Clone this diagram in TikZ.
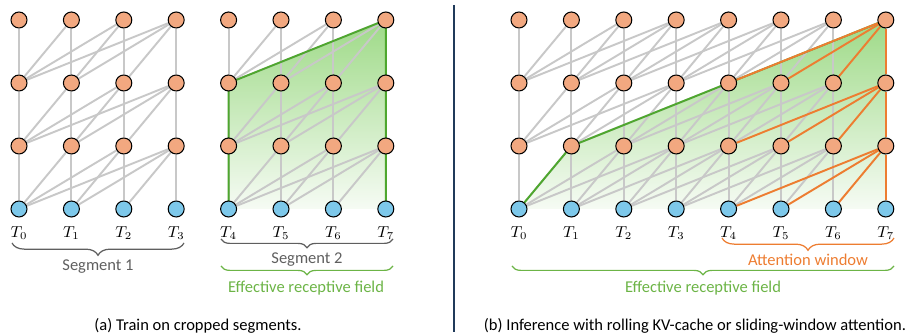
\documentclass[tikz,border=0pt]{standalone}
\usepackage{fontspec}
\setmainfont{Carlito}
\usetikzlibrary{decorations.pathreplacing}
\pgfdeclarelayer{shade}
\pgfdeclarelayer{top}
\pgfsetlayers{shade,main,top}
\begin{document}
\begin{tikzpicture}[x=0.02cm,y=-0.02cm,
  tok/.style={circle,draw=black,line width=0.6pt,minimum size=0.32cm,inner sep=0pt},
  attn/.style={line width=1.1pt,color=tk_gray},
  win/.style={line width=1.1pt,color=tk_orange},
  field/.style={line width=1.1pt,color=tk_green},
  brc/.style={decorate,decoration={brace,mirror,amplitude=5pt},line width=0.7pt},
  lbl/.style={font=\fontsize{9.4}{11}\selectfont,inner sep=1pt},
  tlbl/.style={font=\fontsize{9}{10}\selectfont,inner sep=0pt}]

% ------------------------------------------------ colors
\definecolor{tk_hid}{RGB}{242,168,128}     %#F2A880
\definecolor{tk_inp}{RGB}{125,200,234}     %#7DC8EA
\definecolor{tk_gray}{RGB}{200,200,200}    %#C8C8C8
\definecolor{tk_green}{RGB}{78,167,46}     %#4EA72E
\definecolor{tk_gtext}{RGB}{108,180,70}    %#6CB446
\definecolor{tk_orange}{RGB}{237,125,49}   %#ED7D31
\definecolor{tk_text}{RGB}{95,95,95}       %#5F5F5F
\definecolor{tk_rule}{RGB}{32,58,90}       %#203A5A
\definecolor{tk_ftop}{RGB}{158,218,135}
\definecolor{tk_fbot}{RGB}{246,251,244}

\useasboundingbox (0,0) rectangle (914,333);

% ------------------------------------------------ tokens
\begin{pgfonlayer}{top}
\foreach \i in {0,...,7} {
  \foreach \r in {0,...,3} {
    \ifnum\r=0 \def\fc{tk_inp}\else\def\fc{tk_hid}\fi
    \node[tok,fill=\fc] (seg-\i-\r) at (19+52.4*\i,209-63*\r) {};
    \node[tok,fill=\fc] (win-\i-\r) at (519+52.4*\i,209-63*\r) {};
  }
  \node[tlbl] (tseg-\i) at (19+52.4*\i,233) {$T_{\i}$};
  \node[tlbl] (twin-\i) at (519+52.4*\i,233) {$T_{\i}$};
}
\end{pgfonlayer}

% ------------------------------------------------ receptive fields
\begin{pgfonlayer}{shade}
\shade[top color=tk_ftop,bottom color=tk_fbot] (seg-4-0.center) -- (seg-4-2.center) -- (seg-7-3.center) -- (seg-7-0.center) -- cycle;
\shade[top color=tk_ftop,bottom color=tk_fbot] (win-0-0.center) -- (win-1-1.center) -- (win-4-2.center) -- (win-7-3.center) -- (win-7-0.center) -- cycle;
\end{pgfonlayer}

% ------------------------------------------------ attention
\foreach \i in {0,...,7} {
  \pgfmathtruncatemacro{\sl}{max(\i-3,4*int(\i/4))}
  \pgfmathtruncatemacro{\wl}{max(\i-3,0)}
  \foreach \r in {1,2,3} {
    \pgfmathtruncatemacro{\rr}{\r-1}
    \foreach \k in {\sl,...,\i}
      \draw[attn] (seg-\i-\r) -- (seg-\k-\rr);
    \ifnum\i<7
      \foreach \k in {\wl,...,\i}
        \draw[attn] (win-\i-\r) -- (win-\k-\rr);
    \fi
  }
}

\draw[field] (seg-4-0.center) -- (seg-4-2.center) -- (seg-7-3.center) -- (seg-7-0.center);
\draw[field] (win-0-0.center) -- (win-1-1.center) -- (win-4-2.center) -- (win-7-3.center);

\foreach \r in {1,2,3} {
  \pgfmathtruncatemacro{\rr}{\r-1}
  \foreach \k in {4,...,7}
    \draw[win] (win-7-\r) -- (win-\k-\rr);
}

% ------------------------------------------------ braces and labels
\draw[brc,decoration={amplitude=7pt},color=tk_text] (12,243) -- (184,243);
\node[lbl,text=tk_text] (seglab1) at (98,267) {Segment 1};
\draw[brc,color=tk_text] (221,239) -- (393,239);
\node[lbl,text=tk_text] (seglab2) at (307,260) {Segment 2};
\draw[brc,color=tk_gtext] (221,266) -- (393,266);
\node[lbl,text=tk_gtext] (fieldlab1) at (306,288) {Effective receptive field};

\draw[brc,decoration={amplitude=7pt},color=tk_orange] (722,238) -- (894,238);
\node[lbl,text=tk_orange] (winlab) at (808,260) {Attention window};
\draw[brc,color=tk_gtext] (512,266) -- (894,266);
\node[lbl,text=tk_gtext] (fieldlab2) at (703,288) {Effective receptive field};

\draw[line width=1.2pt,color=tk_rule] (454,5) -- (454,332);

\node[lbl] (capa) at (198,326) {(a) Train on cropped segments.};
\node[lbl] (capb) at (695,326) {(b) Inference with rolling KV-cache or sliding-window attention.};

\end{tikzpicture}
\end{document}
